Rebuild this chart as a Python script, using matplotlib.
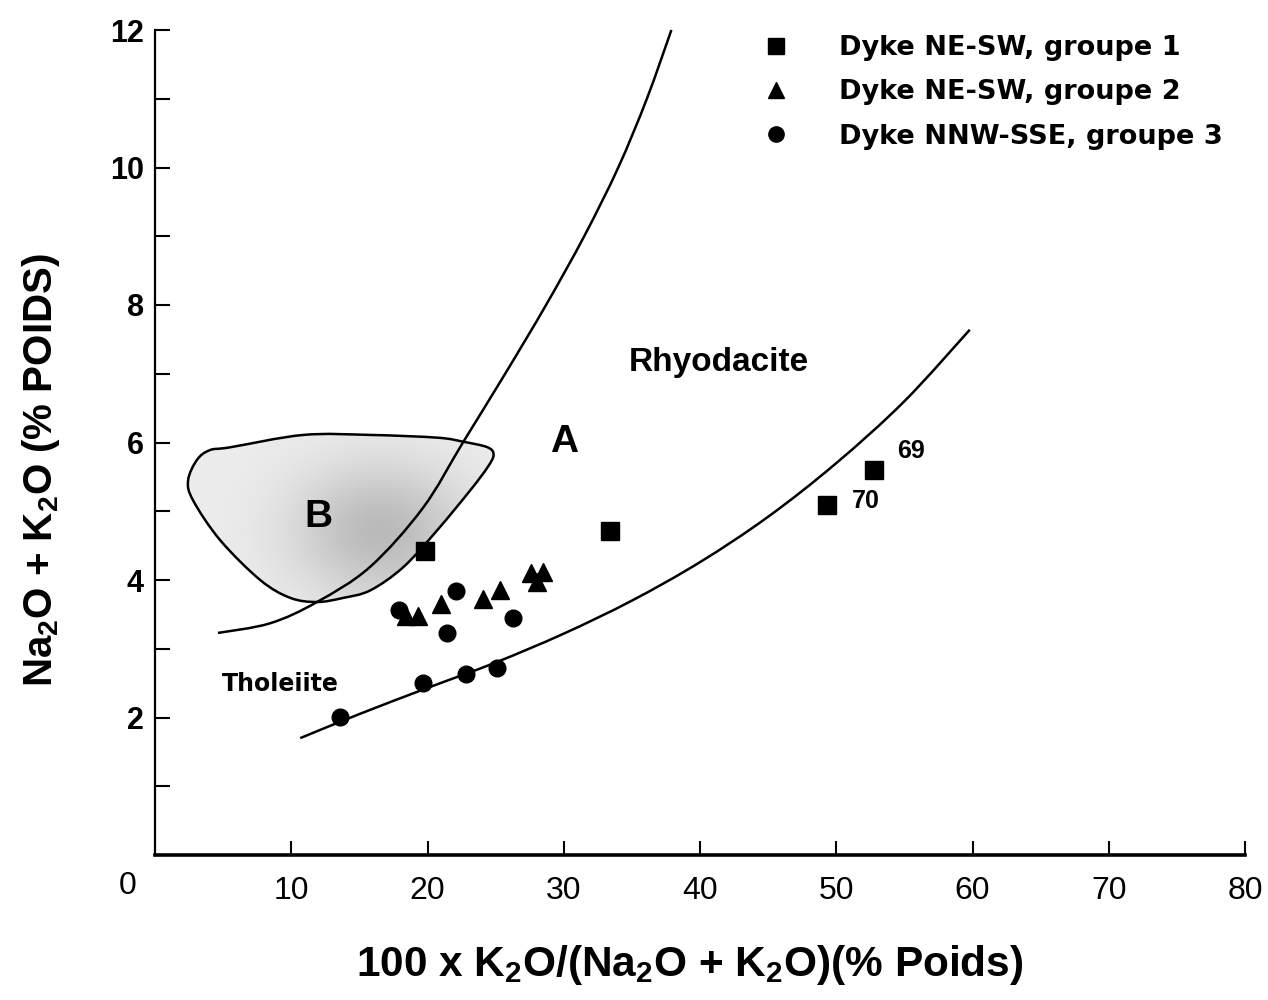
import numpy as np
import matplotlib
matplotlib.use("Agg")
import matplotlib.pyplot as plt
from matplotlib.path import Path
from matplotlib.patches import PathPatch
from matplotlib.lines import Line2D
from matplotlib.ticker import MultipleLocator

plt.rcParams['font.family'] = ['Liberation Sans', 'DejaVu Sans']
plt.rcParams['font.weight'] = 'bold'
plt.rcParams['axes.labelweight'] = 'bold'
plt.rcParams['mathtext.fontset'] = 'custom'
plt.rcParams['mathtext.rm'] = 'Liberation Sans:bold'
plt.rcParams['mathtext.it'] = 'Liberation Sans:bold'
plt.rcParams['mathtext.bf'] = 'Liberation Sans:bold'

# --- samples -------------------------------------------------------------
g1_x = [19.8, 33.4, 49.3, 52.8]          # Dyke NE-SW, groupe 1
g1_y = [4.42, 4.71, 5.09, 5.60]
g1_ids = ['', '', '70', '69']

g2_x = [18.4, 19.3, 21.0, 24.1, 25.3, 27.6, 28.5, 28.0]   # groupe 2
g2_y = [3.48, 3.48, 3.65, 3.72, 3.85, 4.10, 4.12, 3.97]

g3_x = [17.9, 22.1, 21.4, 26.3, 13.6, 19.7, 22.8, 25.1]   # groupe 3
g3_y = [3.56, 3.84, 3.23, 3.45, 2.01, 2.50, 2.63, 2.72]

legend_labels = ['Dyke NE-SW, groupe 1', 'Dyke NE-SW, groupe 2',
                 'Dyke NNW-SSE, groupe 3']

# --- field boundaries ------------------------------------------------------
upper_x = [4.62, 8.44, 11.89, 15.78, 19.67, 22.6, 25.7, 28.7, 31.5, 34.0, 36.1, 37.9]
upper_y = [3.23, 3.37, 3.68, 4.19, 5.05, 6.0, 7.0, 8.0, 9.0, 10.0, 11.0, 12.0]

lower_x = [10.66, 15.0, 20.0, 25.0, 30.0, 35.0, 40.0, 45.0, 50.0, 55.0, 59.8]
lower_y = [1.70, 2.05, 2.43, 2.80, 3.22, 3.70, 4.26, 4.92, 5.70, 6.60, 7.64]

# outline of field B (closed)
field_b_x = [5.51, 10.88, 15.81, 20.74, 22.65, 24.41, 24.85, 24.41, 23.16,
             20.74, 18.24, 15.81, 13.82, 11.91, 9.93, 7.72, 4.78, 2.79,
             2.43, 3.09, 4.04]
field_b_y = [5.93, 6.11, 6.11, 6.07, 6.01, 5.93, 5.82, 5.64, 5.31,
             4.73, 4.19, 3.85, 3.74, 3.68, 3.74, 4.00, 4.58, 5.16,
             5.45, 5.75, 5.89]

x_ticks = [10, 20, 30, 40, 50, 60, 70, 80]
y_ticks = [2, 4, 6, 8, 10, 12]


def smooth_path(xs, ys, closed=False):
    """Cubic Bezier path passing through the given vertices (Catmull-Rom tangents)."""
    pts = np.column_stack([xs, ys]).astype(float)
    n = len(pts)
    verts = [pts[0]]
    codes = [Path.MOVETO]
    nseg = n if closed else n - 1
    for i in range(nseg):
        p1 = pts[i]
        p2 = pts[(i + 1) % n]
        p0 = pts[i - 1] if (i > 0 or closed) else p1
        p3 = pts[(i + 2) % n] if (i + 2 < n or closed) else p2
        c1 = p1 + (p2 - p0) / 6.0
        c2 = p2 - (p3 - p1) / 6.0
        verts += [c1, c2, p2]
        codes += [Path.CURVE4] * 3
    if closed:
        verts.append(pts[0])
        codes.append(Path.CLOSEPOLY)
    return Path(np.array(verts), codes)


fig = plt.figure(figsize=(12.68, 10.0), dpi=100)
ax = fig.add_axes([155 / 1268, 145 / 1000, 1090 / 1268, 825 / 1000])
ax.set_xlim(0, 80)
ax.set_ylim(0, 12)

# field B: shaded, darker towards its core
b_path = smooth_path(field_b_x, field_b_y, closed=True)
b_patch = PathPatch(b_path, facecolor='none', edgecolor='black', lw=1.8, zorder=3)
ax.add_patch(b_patch)
gx = np.linspace(1, 26, 300)
gy = np.linspace(3.4, 6.4, 200)
GX, GY = np.meshgrid(gx, gy)
d2 = ((GX - 16.5) / 6.5) ** 2 + ((GY - 4.7) / 1.0) ** 2
level = 0.93 - 0.20 * np.exp(-d2)
rgb = np.dstack([level, level, level])
im = ax.imshow(rgb, extent=[gx[0], gx[-1], gy[0], gy[-1]], origin='lower',
               aspect='auto', zorder=1, interpolation='bilinear')
clip_patch = PathPatch(b_path, facecolor='none', edgecolor='none', transform=ax.transData)
ax.add_patch(clip_patch)
im.set_clip_path(clip_patch)

# boundary curves
ax.add_patch(PathPatch(smooth_path(upper_x, upper_y), facecolor='none',
                       edgecolor='black', lw=1.8, zorder=3, clip_on=False))
ax.add_patch(PathPatch(smooth_path(lower_x, lower_y), facecolor='none',
                       edgecolor='black', lw=1.8, zorder=3))

# samples
ax.plot(g1_x, g1_y, ls='none', marker='s', ms=13, color='black', zorder=5)
ax.plot(g2_x, g2_y, ls='none', marker='^', ms=13, color='black', zorder=5)
ax.plot(g3_x, g3_y, ls='none', marker='o', ms=12, color='black', zorder=5)
for x, y, s in zip(g1_x, g1_y, g1_ids):
    if s:
        dx, dy = (2.9, 0.06) if s == '70' else (2.7, 0.28)
        ax.text(x + dx, y + dy, s, fontsize=18, ha='center', va='center')

# field names
ax.text(12.0, 4.92, 'B', fontsize=28, ha='center', va='center')
ax.text(30.0, 6.0, 'A', fontsize=28, ha='center', va='center')
ax.text(41.4, 7.17, 'Rhyodacite', fontsize=24, ha='center', va='center')
ax.text(9.2, 2.49, 'Tholeiite', fontsize=17, ha='center', va='center',
        family=['DejaVu Sans'])

# legend
handles = [Line2D([], [], ls='none', marker='s', ms=11, color='black'),
           Line2D([], [], ls='none', marker='^', ms=12, color='black'),
           Line2D([], [], ls='none', marker='o', ms=11, color='black')]
ax.legend(handles, legend_labels, loc='upper left',
          bbox_to_anchor=(762 / 1268, 1 - 35 / 1000), bbox_transform=fig.transFigure,
          frameon=False, borderpad=0, borderaxespad=0, handlelength=1.0,
          handletextpad=1.84, labelspacing=0.68,
          prop={'family': 'DejaVu Sans', 'weight': 'bold', 'size': 19.5})

# axes styling
for side in ('top', 'right'):
    ax.spines[side].set_visible(False)
ax.spines['left'].set_linewidth(1.6)
ax.spines['bottom'].set_linewidth(2.6)

ax.set_xticks(x_ticks)
ax.set_xticklabels([str(v) for v in x_ticks], weight='normal', fontsize=23)
ax.set_yticks(y_ticks)
ax.set_yticklabels([str(v) for v in y_ticks], fontsize=22)
ax.yaxis.set_minor_locator(MultipleLocator(1))
ax.tick_params(axis='x', direction='in', length=10, width=1.5, pad=15)
ax.tick_params(axis='y', which='both', direction='in', length=11, width=1.5, pad=8)
ax.text(-2.0, -0.45, '0', fontsize=23, ha='center', va='center', weight='normal')

ax.set_xlabel(r'100 x K$_2$O/(Na$_2$O + K$_2$O)(% Poids)', fontsize=30.5, va='center')
ax.xaxis.set_label_coords(0.491, -0.133)
ax.set_ylabel(r'Na$_2$O + K$_2$O (% POIDS)', fontsize=29, va='center')
ax.yaxis.set_label_coords(-0.105, 0.467)

fig.savefig('out.png', dpi=100)
